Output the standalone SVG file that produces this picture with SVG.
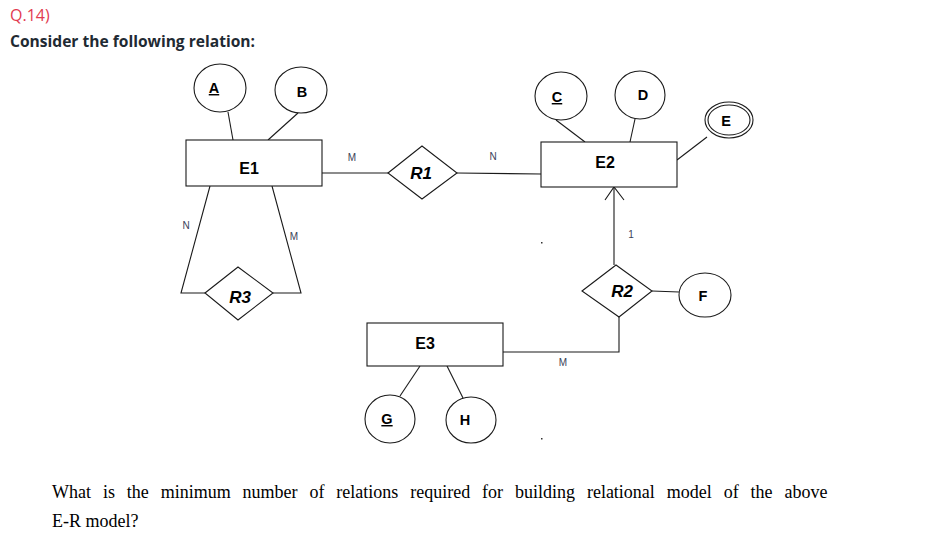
<svg xmlns="http://www.w3.org/2000/svg" width="933" height="537" viewBox="0 0 933 537">
<style>
.ln{stroke:#1a1a1a;stroke-width:1.1;fill:none}
.box{fill:#fff;stroke:#1a1a1a;stroke-width:1.1}
.ent{font-family:"Liberation Sans",Arial,sans-serif;font-weight:bold;font-size:16px;fill:#000;text-anchor:middle}
.rel{font-family:"Liberation Sans",Arial,sans-serif;font-weight:bold;font-style:italic;font-size:17px;fill:#000;text-anchor:middle}
.att{font-family:"Liberation Sans",Arial,sans-serif;font-weight:bold;font-size:14.5px;fill:#000;text-anchor:middle}
.card{font-family:"Liberation Sans",Arial,sans-serif;font-size:10px;fill:#3a4258;text-anchor:middle}
.q{font-family:"Liberation Serif","Times New Roman",serif;font-size:18px;fill:#000}
</style>
<rect width="933" height="537" fill="#fff"/>
<text x="10" y="21" font-family="'Open Sans','Noto Sans',sans-serif" font-size="16" fill="#e23a50">Q.14)</text>
<text x="10" y="47" font-family="'Open Sans','Noto Sans',sans-serif" font-size="16" font-weight="bold" fill="#1f2a33" textLength="245" lengthAdjust="spacingAndGlyphs">Consider the following relation:</text>

<g id="connectors">
<line class="ln" x1="228" y1="112" x2="233" y2="140"/>
<line class="ln" x1="298" y1="113" x2="268" y2="140"/>
<line class="ln" x1="322" y1="173" x2="388" y2="173"/>
<line class="ln" x1="457" y1="173" x2="541" y2="174"/>
<line class="ln" x1="556" y1="120" x2="585" y2="142"/>
<line class="ln" x1="635" y1="119" x2="630" y2="142"/>
<line class="ln" x1="677" y1="160" x2="707" y2="137"/>
<line class="ln" x1="614" y1="265" x2="614" y2="187"/>
<polyline class="ln" points="605,200 614,187 624,200"/>
<line class="ln" x1="652" y1="291" x2="679" y2="292"/>
<polyline class="ln" points="619,317 619,352 503,352"/>
<polyline class="ln" points="210,186 181,293 205,293"/>
<polyline class="ln" points="272,186 301,293 273,293"/>
<line class="ln" x1="420" y1="366" x2="400" y2="396"/>
<line class="ln" x1="447" y1="366" x2="463" y2="398"/>
<text class="card" x="352" y="161">M</text>
<text class="card" x="493" y="160">N</text>
<text class="card" x="186" y="229">N</text>
<text class="card" x="294" y="240">M</text>
<text class="card" x="631" y="238" fill="#7a2030">1</text>
<text class="card" x="563" y="366">M</text>
<rect x="541" y="242" width="1.5" height="1.5" fill="#333"/>
<rect x="541" y="438" width="1.5" height="1.5" fill="#333"/>
</g>

<g id="E1"><rect class="box" x="186" y="140" width="136" height="46"/><text class="ent" x="249" y="174">E1</text></g>
<g id="E2"><rect class="box" x="541" y="142" width="136" height="45"/><text class="ent" x="605" y="168">E2</text></g>
<g id="E3"><rect class="box" x="367" y="323" width="136" height="43"/><text class="ent" x="425" y="349">E3</text></g>

<g id="R1"><polygon class="box" points="388,173 422,146 457,173 422,199"/><text class="rel" x="421" y="179">R1</text></g>
<g id="R2"><polygon class="box" points="582,291 616,265 652,291 619,317"/><text class="rel" x="622" y="297">R2</text></g>
<g id="R3"><polygon class="box" points="205,293 238,267 273,293 238,320"/><text class="rel" x="240" y="303">R3</text></g>

<g id="A"><ellipse class="box" cx="220" cy="88" rx="26" ry="24"/><text class="att" x="214" y="93" text-decoration="underline">A</text></g>
<g id="B"><ellipse class="box" cx="301" cy="90" rx="26" ry="23"/><text class="att" x="302" y="97">B</text></g>
<g id="C"><ellipse class="box" cx="561" cy="96" rx="26" ry="24"/><text class="att" x="557" y="102" text-decoration="underline">C</text></g>
<g id="D"><ellipse class="box" cx="640" cy="95" rx="25" ry="24"/><text class="att" x="643" y="100">D</text></g>
<g id="E"><ellipse class="box" cx="729" cy="120" rx="24" ry="18"/><ellipse class="ln" cx="729" cy="120" rx="21" ry="15"/><text class="att" x="726" y="126">E</text></g>
<g id="F"><ellipse class="box" cx="705" cy="295" rx="26" ry="22"/><text class="att" x="703" y="301">F</text></g>
<g id="G"><ellipse class="box" cx="390" cy="419" rx="25" ry="24"/><text class="att" x="387" y="424" text-decoration="underline">G</text></g>
<g id="H"><ellipse class="box" cx="471" cy="420" rx="25" ry="23"/><text class="att" x="465" y="425">H</text></g>

<text class="q" x="52" y="498" word-spacing="7.4">What is the minimum number of relations required for building relational model of the above</text>
<text class="q" x="52" y="527">E-R model?</text>
</svg>
